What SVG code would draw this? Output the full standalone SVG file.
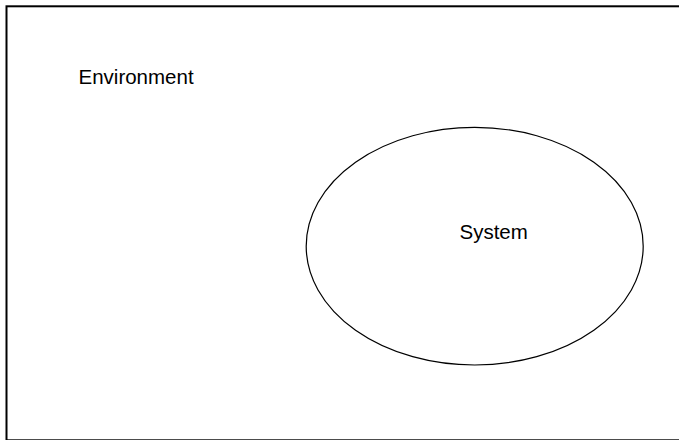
<svg xmlns="http://www.w3.org/2000/svg" width="679" height="440" viewBox="0 0 679 440">
  <style>
    .frame { fill: #ffffff; stroke: #000000; stroke-width: 2; }
    .shape { fill: #ffffff; stroke: #000000; stroke-width: 1.2; }
    .label { font-family: "Liberation Sans", Arial, sans-serif; font-size: 20.5px; fill: #000000; }
  </style>
  <rect width="679" height="440" fill="#ffffff"/>
  <g id="environment">
    <rect class="frame" x="6.5" y="6.3" width="680" height="434"/>
    <text class="label" x="78.5" y="84">Environment</text>
  </g>
  <g id="system">
    <ellipse class="shape" cx="474.7" cy="246.2" rx="168.5" ry="118.8"/>
    <text class="label" x="459.5" y="239">System</text>
  </g>
  <g id="connectors"></g>
</svg>
